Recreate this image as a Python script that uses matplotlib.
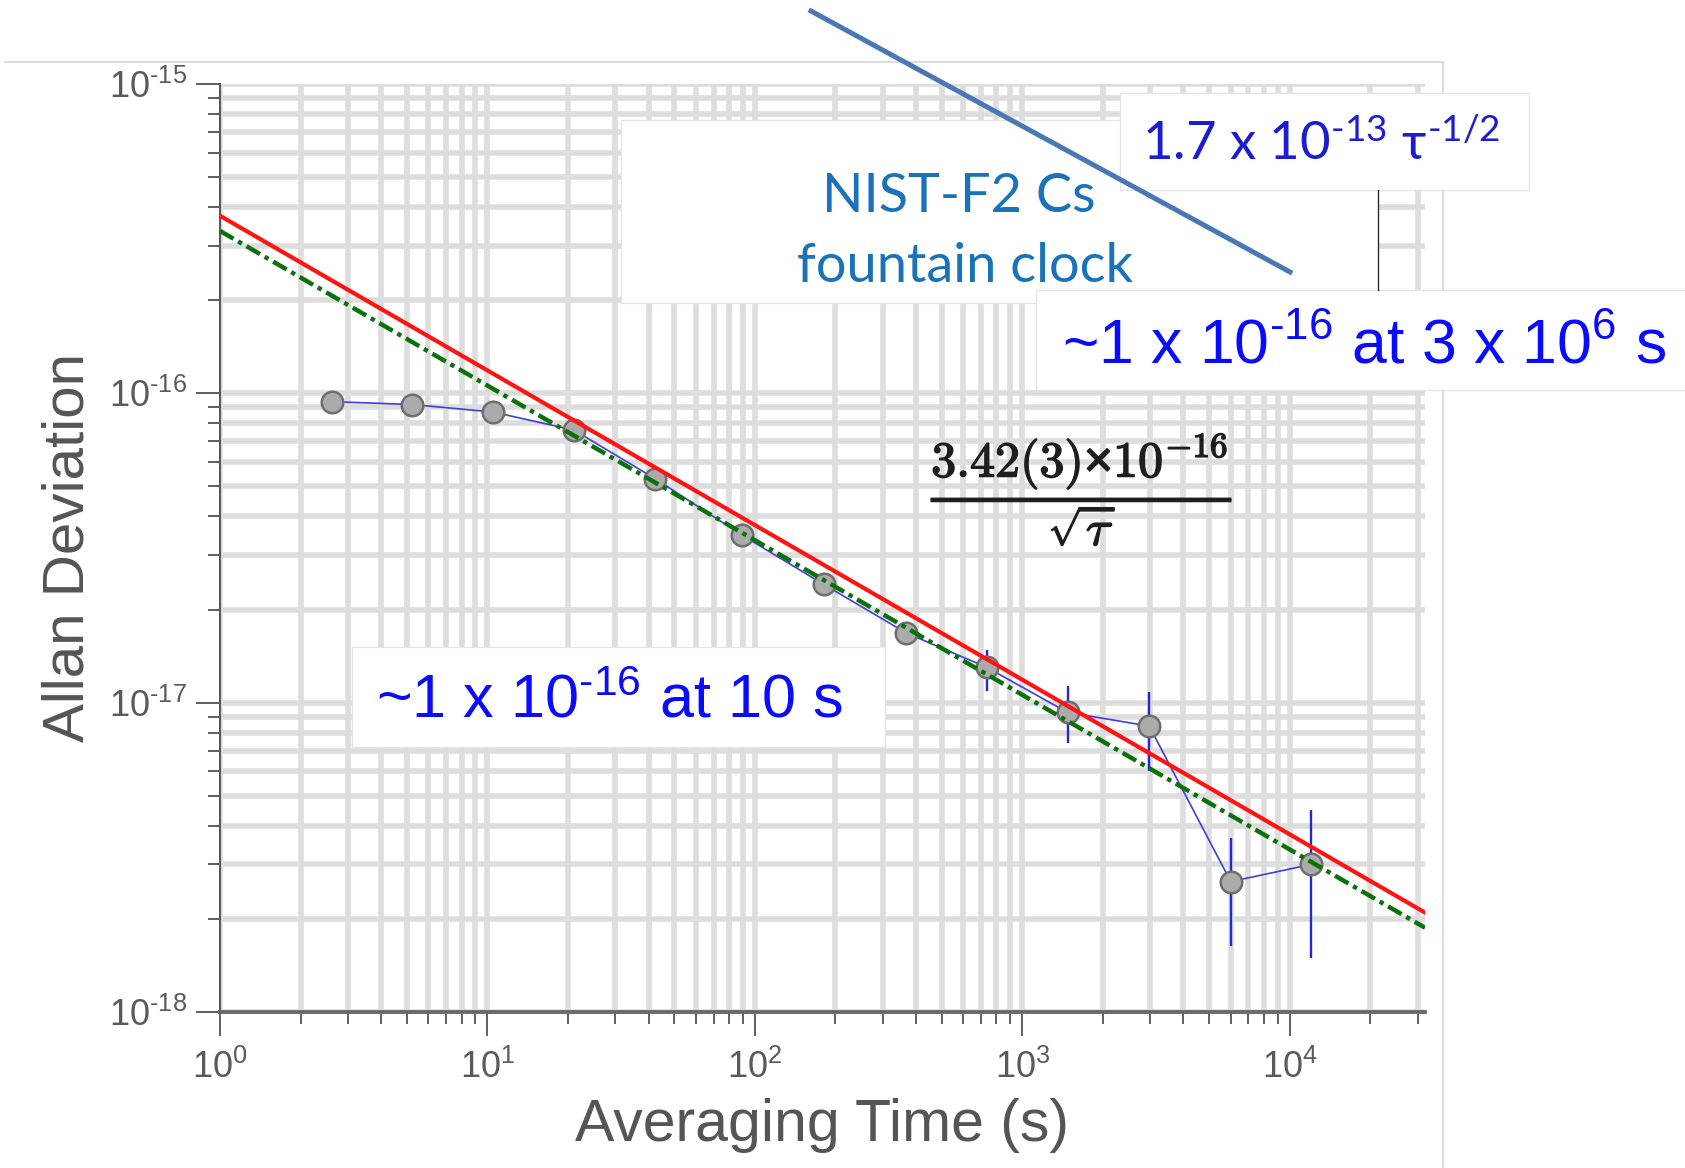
import matplotlib
matplotlib.use("Agg")
import matplotlib.pyplot as plt
import matplotlib.patheffects as pe
import numpy as np
from matplotlib.patches import Rectangle
from matplotlib.lines import Line2D
from matplotlib.ticker import FixedLocator, LogLocator, NullFormatter, FuncFormatter

W, H = 1685, 1168

# ── Data ─────────────────────────────────────────────────────────────────────
tau = np.array([2.62, 5.24, 10.5, 21.1, 42.3, 89.5, 181, 368, 737, 1475, 2980, 6010, 12030])
adev = np.array([9.4e-17, 9.2e-17, 8.7e-17, 7.6e-17, 5.3e-17, 3.48e-17, 2.41e-17,
                 1.68e-17, 1.30e-17, 9.3e-18, 8.4e-18, 2.64e-18, 3.0e-18])
adev_lo = np.array([9.2e-17, 9.0e-17, 8.5e-17, 7.35e-17, 5.1e-17, 3.33e-17, 2.28e-17,
                    1.56e-17, 1.09e-17, 7.4e-18, 6.0e-18, 1.63e-18, 1.5e-18])
adev_hi = np.array([9.6e-17, 9.4e-17, 8.9e-17, 7.85e-17, 5.5e-17, 3.63e-17, 2.55e-17,
                    1.80e-17, 1.48e-17, 1.13e-17, 1.08e-17, 3.66e-18, 4.5e-18])

tau_fit = np.array([1.0, 3.2e4])
fit_red = 3.75e-16     # white-noise fit levels at tau = 1 s
fit_green = 3.35e-16

x_ticks = [1, 10, 100, 1e3, 1e4]
y_ticks = [1e-18, 1e-17, 1e-16, 1e-15]

HY = '\u2010'  # short hyphen used in the superscripts

# ── Style ────────────────────────────────────────────────────────────────────
plt.rcParams['font.family'] = 'Liberation Sans'
plt.rcParams['mathtext.fontset'] = 'custom'
plt.rcParams['mathtext.rm'] = 'Liberation Sans'
plt.rcParams['mathtext.it'] = 'Liberation Sans:italic'
plt.rcParams['mathtext.bf'] = 'Liberation Sans:bold'
plt.rcParams['mathtext.default'] = 'regular'

fig = plt.figure(figsize=(W / 100, H / 100), dpi=100)
fig.patch.set_facecolor('white')

def fx(x):
    return x / W

def fy(y):
    return 1 - y / H

def pow10_label(v, pos):
    e = int(round(np.log10(v)))
    return r'$\mathregular{10^{%s}}$' % str(e).replace('-', HY)

ax = fig.add_axes([fx(220), fy(1012), (1425 - 220) / W, (1012 - 84) / H])
ax.set_xscale('log')
ax.set_yscale('log')
ax.set_xlim(1, 3.2e4)
ax.set_ylim(1e-18, 1e-15)

ax.xaxis.set_major_locator(FixedLocator(x_ticks))
ax.yaxis.set_major_locator(FixedLocator(y_ticks))
for axis in (ax.xaxis, ax.yaxis):
    axis.set_major_formatter(FuncFormatter(pow10_label))
    axis.set_minor_locator(LogLocator(base=10, subs=np.arange(2, 10), numticks=40))
    axis.set_minor_formatter(NullFormatter())

ax.set_axisbelow(True)
ax.grid(True, which='both', color='#dddddd', lw=4)

ax.tick_params(which='both', direction='out', color='#444444', width=1.2,
               labelsize=26, labelcolor='#5a5a5a', top=False, right=False)
ax.tick_params(which='major', length=17)
ax.tick_params(which='minor', length=8.5)
ax.tick_params(axis='x', which='major', pad=10)
ax.tick_params(axis='y', which='major', pad=7)

for s in ('top', 'right'):
    ax.spines[s].set_visible(False)
ax.spines['left'].set_color('#555555')
ax.spines['left'].set_linewidth(1.4)
ax.spines['bottom'].set_color('#6a6a6a')
ax.spines['bottom'].set_linewidth(2.8)

# data with error bars
ax.errorbar(tau, adev, yerr=[adev - adev_lo, adev_hi - adev], fmt='none',
            ecolor='#2626d6', elinewidth=1.7, capsize=0, zorder=3)
ax.plot(tau, adev, '-', color='#3d3de4', lw=1.2, zorder=3)
ax.plot(tau, adev, 'o', ms=15.5, mfc='#ababab', mec='#6e6e6e', mew=1.8, zorder=4)

# fits
ax.plot(tau_fit, fit_green / np.sqrt(tau_fit), color='#0a720a', lw=3.2,
        ls=(0, (3.5, 1.2, 1.0, 1.2)), zorder=5)
ax.plot(tau_fit, fit_red / np.sqrt(tau_fit), color='#ff1414', lw=3, zorder=5)

# axis labels
fig.text(fx(822), fy(1141), 'Averaging Time (s)', ha='center', va='baseline',
         fontsize=42.5, color='#555555')
fig.text(fx(68), fy(548), 'Allan Deviation', ha='center', va='center',
         rotation=90, fontsize=42, color='#555555')

# formula (bold look via a thin stroke)
fig.text(fx(1082), fy(490),
         r'$\dfrac{\mathbf{3.42(3)}{\times}\mathbf{10^{-16}}}{\sqrt{\mathit{\tau}}}$',
         ha='center', va='center', fontsize=36, color='#1e1e1e', math_fontfamily='cm',
         path_effects=[pe.withStroke(linewidth=1.1, foreground='#1e1e1e')])

# ── Overlay pieces (pasted boxes, frame) ─────────────────────────────────────
frame_kw = dict(color='#d6d6d6', lw=1.2, zorder=9, transform=fig.transFigure)
fig.add_artist(Line2D([fx(5), fx(1443)], [fy(62), fy(62)], **frame_kw))
fig.add_artist(Line2D([fx(1443), fx(1443)], [fy(62), 0], **frame_kw))

boxes = [(621, 120, 1378, 303), (1120, 93, 1529, 190), (1036, 290, 1690, 390),
         (352, 647, 885, 747)]
for x0, y0, x1, y1 in boxes:
    fig.add_artist(Rectangle((fx(x0), fy(y1)), (x1 - x0) / W, (y1 - y0) / H,
                             transform=fig.transFigure, fc='white', ec='#e6e6e6',
                             lw=1, zorder=10))

fig.add_artist(Line2D([fx(1378), fx(1378)], [fy(190), fy(290)], color='#222222',
                      lw=0.9, zorder=11, transform=fig.transFigure))
fig.add_artist(Line2D([fx(811), fx(1290)], [fy(11), fy(272)], color='#4a78b5',
                      lw=3.6, zorder=11, transform=fig.transFigure))

fig.text(fx(959), fy(212), 'NIST-F2 Cs', ha='center', va='baseline', fontsize=39,
         color='#1a72b8', family='Lato', zorder=12)
fig.text(fx(965), fy(282), 'fountain clock', ha='center', va='baseline', fontsize=39,
         color='#1a72b8', family='Lato', zorder=12)
fig.text(fx(1142), fy(161), r'1.7 x 10$^{%s13}$ $\tau^{%s1/2}$' % (HY, HY),
         ha='left', va='baseline', fontsize=38, color='#1c1cd2', family='Lato', zorder=12)
fig.text(fx(1062), fy(363), r'~1 x 10$^{%s16}$ at 3 x 10$^{6}$ s' % HY, ha='left',
         va='baseline', fontsize=45, color='#0a0aff', zorder=12)
fig.text(fx(376), fy(718), r'~1 x 10$^{%s16}$ at 10 s' % HY, ha='left', va='baseline',
         fontsize=44, color='#0a0aff', zorder=12)

fig.savefig('out.png', dpi=100, facecolor='white')
